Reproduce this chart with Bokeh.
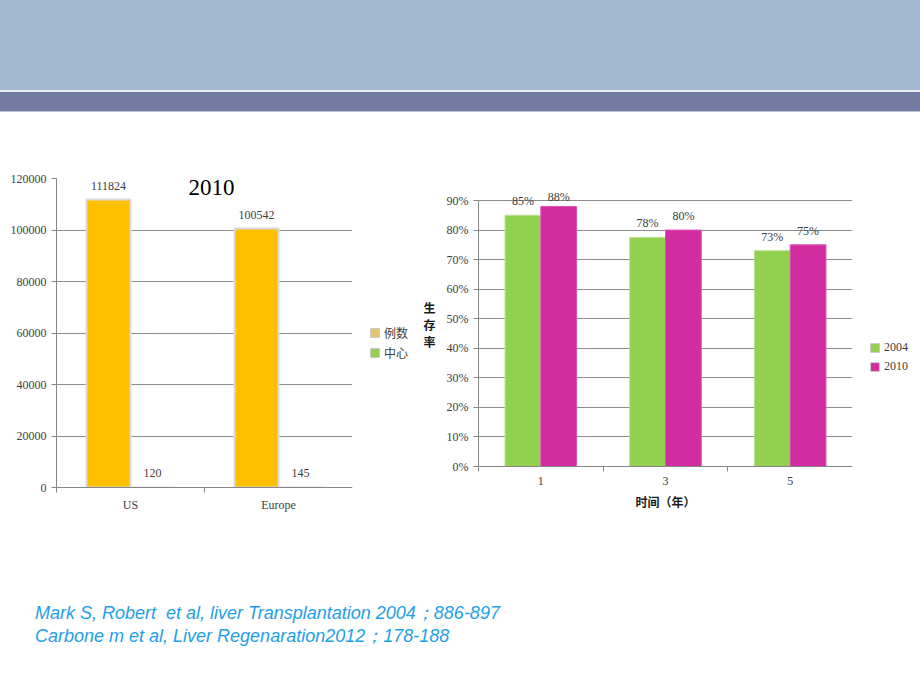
from bokeh.plotting import figure
from bokeh.models import (ColumnDataSource, FixedTicker, BasicTickFormatter, NumeralTickFormatter,
                          Legend, LegendItem, Label, Div, Range1d, Spacer)
from bokeh.layouts import column, row
from bokeh.transform import dodge
from bokeh.embed import file_html
from bokeh.resources import INLINE

# ---------------- data ----------------
regions = ["US", "Europe"]
cases = [111824, 100542]          # 例数
centers = [120, 145]              # 中心
count_ticks = [0, 20000, 40000, 60000, 80000, 100000, 120000]

years = ["1", "3", "5"]
surv_2004 = [0.85, 0.775, 0.73]
surv_2010 = [0.88, 0.80, 0.75]
labels_2004 = ["85%", "78%", "73%"]
labels_2010 = ["88%", "80%", "75%"]
pct_ticks = [i / 10 for i in range(10)]

cite_lines = ["Mark S, Robert  et al, liver Transplantation 2004；886-897",
              "Carbone m et al, Liver Regenaration2012；178-188"]

# ---------------- styles ----------------
SERIF = "Liberation Serif"
CJK = "Noto Sans CJK SC"
AX = "#868686"
TXT = "#404040"
GRID = "#8C8C8C"
ORANGE = "#FFC000"
ORANGE_KEY = "#E6C46C"
GREEN = "#92D050"
MAGENTA = "#D22CA0"


def style(p):
    p.outline_line_color = None
    p.background_fill_color = "white"
    p.border_fill_color = "white"
    p.xgrid.grid_line_color = None
    p.ygrid.grid_line_color = GRID
    p.ygrid.grid_line_width = 1
    for ax in (p.xaxis[0], p.yaxis[0]):
        ax.axis_line_color = AX
        ax.major_tick_line_color = AX
        ax.minor_tick_line_color = AX
        ax.major_label_text_font = SERIF
        ax.major_label_text_font_size = "12px"
        ax.major_label_text_color = TXT
    p.yaxis.major_tick_out = 5
    p.yaxis.major_tick_in = 0
    p.yaxis.minor_tick_out = 0
    p.yaxis.minor_tick_in = 0
    p.xaxis.major_tick_out = 0
    p.xaxis.major_tick_in = 0
    p.xaxis.minor_tick_out = 5
    p.xaxis.minor_tick_in = 0
    p.xaxis.major_label_standoff = 5


def value_labels(p, xs, ys, texts, offset):
    for x, y, t in zip(xs, ys, texts):
        p.add_layout(Label(x=x + offset, y=y, text=t, y_offset=14,
                           text_align="center", text_baseline="middle",
                           text_font=SERIF, text_font_size="12px", text_color=TXT))


def legend_panel(names, colors, font, label_h, top, bottom, frame_h, loc):
    """A narrow, axis-less figure that only carries a legend (keys beside a chart)."""
    q = figure(width=68, height=top + frame_h + bottom,
               min_border_left=0, min_border_right=0, min_border_top=top, min_border_bottom=bottom,
               x_range=Range1d(0, 1), y_range=Range1d(0, 1),
               x_axis_type=None, y_axis_type=None,
               output_backend="svg", toolbar_location=None, tools="")
    q.outline_line_color = None
    q.xgrid.visible = False
    q.ygrid.visible = False
    items = []
    for n, c in zip(names, colors):
        # key carrier placed outside the panel's range: draws nothing, only feeds the swatch
        r = q.vbar(x=[-5], top=[-5], bottom=[-6], width=0.5, fill_color=c,
                   line_color="#C8C8C8", line_width=1)
        items.append(LegendItem(label=n, renderers=[r]))
    q.add_layout(Legend(items=items, location=loc, padding=0, spacing=3,
                        glyph_width=11, glyph_height=11, label_height=label_h, label_standoff=4,
                        label_text_font=font, label_text_font_size="12px",
                        label_text_color=TXT, border_line_color=None,
                        background_fill_alpha=0))
    return q


# ---------------- left chart ----------------
xc1 = [i + 0.5 for i in range(len(regions))]
src1 = ColumnDataSource(dict(x=xc1, cases=cases, centers=centers))

T1, F1, B1 = 66, 309, 111
p1 = figure(width=352, height=T1 + F1 + B1,
            min_border_left=56, min_border_right=0, min_border_top=T1, min_border_bottom=B1,
            x_range=Range1d(0, len(regions)), y_range=Range1d(0, count_ticks[-1]),
            output_backend="svg", toolbar_location=None, tools="")
style(p1)
p1.xaxis.ticker = FixedTicker(ticks=xc1, minor_ticks=list(range(len(regions) + 1)))
p1.xaxis.major_label_overrides = {x: r for x, r in zip(xc1, regions)}
p1.yaxis.ticker = FixedTicker(ticks=count_ticks)
p1.yaxis.formatter = BasicTickFormatter(use_scientific=False)

W1 = 0.297
p1.vbar(x=dodge("x", -W1 / 2), top="cases", width=W1, source=src1,
        fill_color=ORANGE, line_color="#D9D9D9", line_width=2)
p1.vbar(x=dodge("x", W1 / 2), top="centers", width=W1, source=src1,
        fill_color=GREEN, line_color="#D9D9D9", line_width=1)

value_labels(p1, xc1, cases, [str(v) for v in cases], -W1 / 2)
value_labels(p1, xc1, centers, [str(v) for v in centers], W1 / 2)

p1.add_layout(Label(x=155, y=300, x_units="screen", y_units="screen", text="2010",
                    text_font=SERIF, text_font_size="23px", text_color="black",
                    text_align="center", text_baseline="middle"))

leg1 = legend_panel(["例数", "中心"], [ORANGE_KEY, GREEN], CJK, 17, T1, B1, F1, (17, 126))

# ---------------- right chart ----------------
xc2 = [i + 0.5 for i in range(len(years))]
src2 = ColumnDataSource(dict(x=xc2, a=surv_2004, b=surv_2010))

EXTRA = 18  # headroom above the 90% line so the value labels are not clipped
FH2 = 266
y_end = pct_ticks[-1] * (FH2 + EXTRA) / FH2
T2, B2 = 66, 110

p2 = figure(width=432, height=T2 + FH2 + EXTRA + B2,
            min_border_left=56, min_border_right=0, min_border_top=T2, min_border_bottom=B2,
            x_range=Range1d(0, len(years)), y_range=Range1d(0, y_end),
            output_backend="svg", toolbar_location=None, tools="")
style(p2)
p2.xaxis.ticker = FixedTicker(ticks=xc2, minor_ticks=list(range(len(years) + 1)))
p2.xaxis.major_label_overrides = {x: y for x, y in zip(xc2, years)}
p2.yaxis.ticker = FixedTicker(ticks=pct_ticks)
p2.yaxis.formatter = NumeralTickFormatter(format="0%")
p2.yaxis.bounds = (0, pct_ticks[-1])

W2 = 0.287
p2.vbar(x=dodge("x", -W2 / 2), top="a", width=W2, source=src2,
        fill_color=GREEN, line_color="#B8E08C", line_width=1)
p2.vbar(x=dodge("x", W2 / 2), top="b", width=W2, source=src2,
        fill_color=MAGENTA, line_color="#DA55B2", line_width=1)

value_labels(p2, xc2, [min(v, 0.865) for v in surv_2004], labels_2004, -W2 / 2)
value_labels(p2, xc2, [min(v, 0.865) for v in surv_2010], labels_2010, W2 / 2)

p2.yaxis.axis_label = "生\n存\n率"
p2.yaxis.axis_label_orientation = "horizontal"
p2.xaxis.axis_label = "时间（年）"
for ax in (p2.xaxis[0], p2.yaxis[0]):
    ax.axis_label_text_font = CJK
    ax.axis_label_text_font_size = "12px"
    ax.axis_label_text_font_style = "bold"
    ax.axis_label_text_color = "#1A1A1A"
    ax.axis_label_text_line_height = 1.0
p2.xaxis.axis_label_standoff = 5
p2.yaxis.axis_label_standoff = 8

leg2 = legend_panel(["2004", "2010"], [GREEN, MAGENTA], SERIF, 16, T2, B2, FH2 + EXTRA, (17, 92))

# ---------------- slide decoration ----------------
header = Div(width=920, height=112, margin=(0, 0, 0, 0), text=(
    '<div style="width:920px;height:90px;background:#A2B8CF"></div>'
    '<div style="width:920px;height:2px;background:#E9EEF4"></div>'
    '<div style="width:920px;height:19px;background:#717BA0"></div>'
    '<div style="width:920px;height:1px;background:#B9C3D6"></div>'))

cite_html = "".join(f"<div>{line}</div>" for line in cite_lines)
cite = Div(width=920, height=80, margin=(0, 0, 0, 0), text=(
    '<div style="padding-left:35px;padding-top:4px;font-family:\'Liberation Sans\',Arial,sans-serif;'
    'font-style:italic;font-size:18px;line-height:23px;color:#1EA0E6;white-space:pre">'
    + cite_html + '</div>'))

gap = Spacer(width=1, height=22 - EXTRA)
gap2 = Spacer(width=1, height=22 - EXTRA)
layout = column(header,
                row(p1, leg1, column(gap, p2), column(gap2, leg2)),
                cite)

with open("out.html", "w") as f:
    f.write(file_html(layout, INLINE))
